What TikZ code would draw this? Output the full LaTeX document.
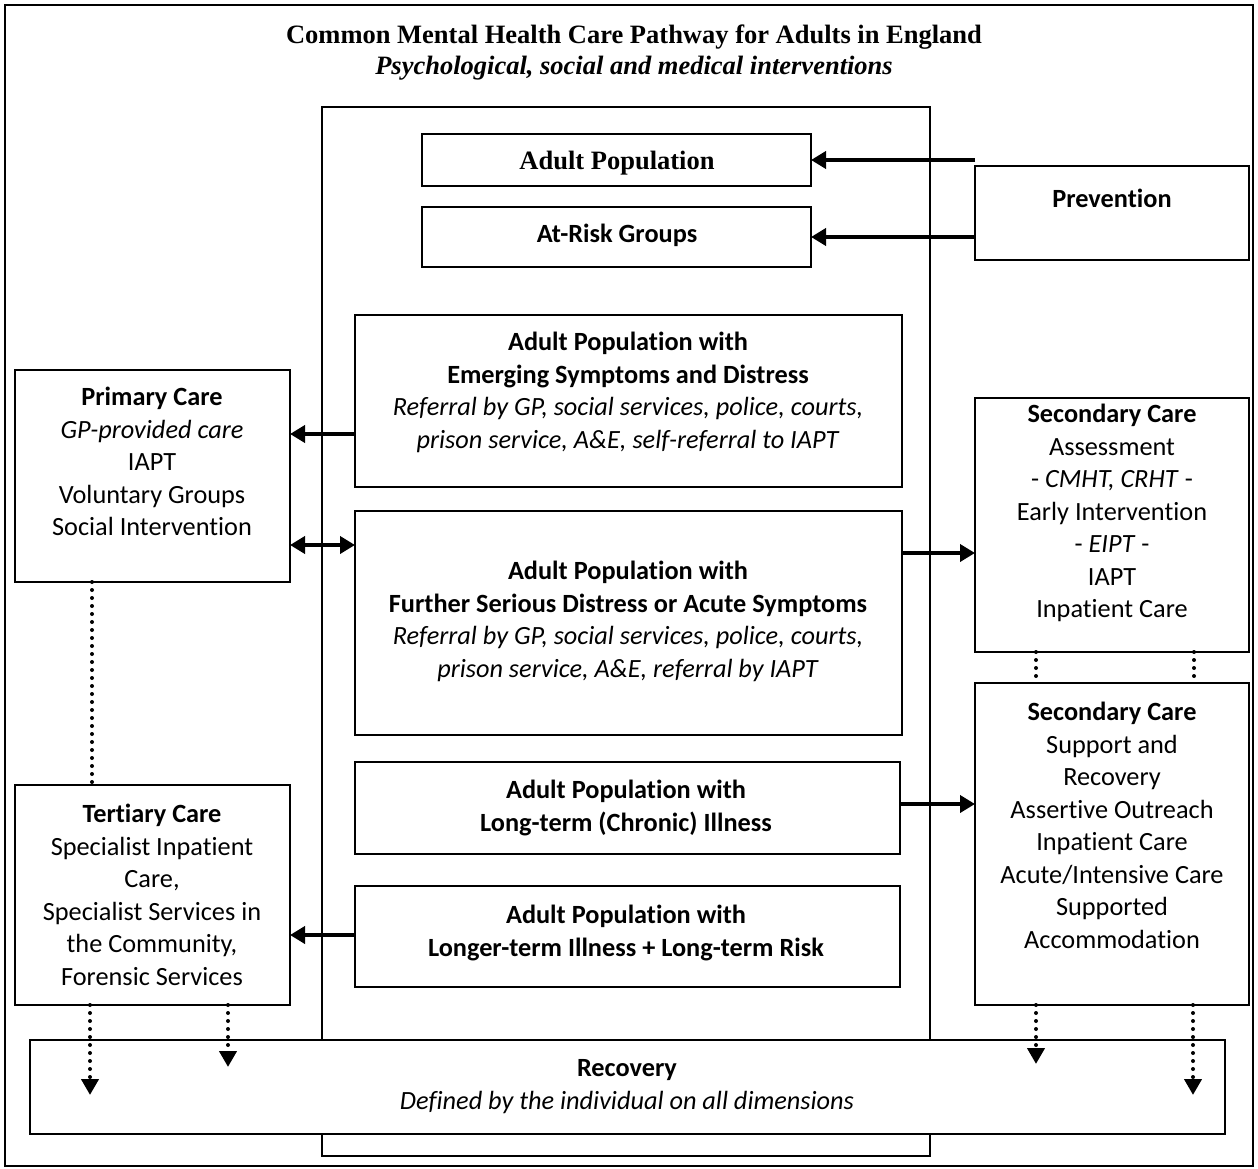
\documentclass[tikz,border=0pt]{standalone}
\usepackage{fontspec}
\setmainfont{Carlito}[Ligatures=NoCommon]
\newfontfamily\tnr{Liberation Serif}
\usetikzlibrary{arrows.meta}
\newcommand\bx[5]{\node[box, minimum width={(#4-#2)*1pt}, minimum height={(#5-#3)*1pt}] (#1) at ({(#2+#4)/2},{(#3+#5)/2}) {};}
\begin{document}
\begin{tikzpicture}[x=1pt,y=-1pt,
  box/.style={draw, line width=1.9pt, fill=white, inner sep=0pt, outer sep=0pt, rectangle},
  txt/.style={anchor=north, inner sep=0pt, align=center, font=\fontsize{26.3}{32.5}\selectfont},
  ttl/.style={anchor=north, inner sep=0pt, align=center, font=\tnr\fontsize{26.5}{30.5}\selectfont},
  arr/.style={line width=4.5pt, -{Triangle[length=15pt,width=17pt]}},
  darr/.style={line width=4.5pt, {Triangle[length=15pt,width=17pt]}-{Triangle[length=15pt,width=17pt]}},
  dots/.style={line width=4pt, line cap=round, dash pattern=on 0pt off 8pt},
  dotarr/.style={dots, -{Triangle[length=16pt,width=17pt]}}]
\useasboundingbox (0,0) rectangle (1258,1169);
% outer frame
\bx{frame}{5}{5}{1253}{1166}
\node[ttl] (title) at (634,22) {\strut\textbf{Common Mental Health Care Pathway for Adults in England}\\\textbf{\textit{Psychological, social and medical interventions}}};
% central column
\bx{col}{322}{107}{930}{1156}
% boxes
\bx{ap}{422}{134}{811}{186}
\bx{ar}{422}{207}{811}{267}
\bx{prev}{975}{166}{1249}{260}
\bx{emg}{355}{315}{902}{487}
\bx{pc}{15}{370}{290}{582}
\bx{fur}{355}{511}{902}{735}
\bx{sc1}{975}{398}{1249}{652}
\bx{lt}{355}{762}{900}{854}
\bx{sc2}{975}{683}{1249}{1005}
\bx{ltr}{355}{886}{900}{987}
\bx{tc}{15}{785}{290}{1005}
\bx{rec}{30}{1040}{1225}{1134}
% texts
\node[ttl] (tap) at (617,148) {\strut\textbf{Adult Population}};
\node[txt] (tar) at (617,220) {\strut\textbf{At-Risk Groups}};
\node[txt] (tprev) at (1112,185) {\strut\textbf{Prevention}};
\node[txt] (temg) at (628,328) {\strut\textbf{Adult Population with}\\\textbf{Emerging Symptoms and Distress}\\\textit{Referral by GP, social services, police, courts,}\\\textit{prison service, A\&E, self-referral to IAPT}};
\node[txt] (tpc) at (152,383) {\strut\textbf{Primary Care}\\\textit{GP-provided care}\\IAPT\\Voluntary Groups\\Social Intervention};
\node[txt] (tfur) at (628,557) {\strut\textbf{Adult Population with}\\\textbf{Further Serious Distress or Acute Symptoms}\\\textit{Referral by GP, social services, police, courts,}\\\textit{prison service, A\&E, referral by IAPT}};
\node[txt] (tsc1) at (1112,400) {\strut\textbf{Secondary Care}\\Assessment\\- \textit{CMHT, CRHT} -\\Early Intervention\\- \textit{EIPT} -\\IAPT\\Inpatient Care};
\node[txt] (tsc2) at (1112,698) {\strut\textbf{Secondary Care}\\Support and\\Recovery\\Assertive Outreach\\Inpatient Care\\Acute/Intensive Care\\Supported\\Accommodation};
\node[txt] (tlt) at (626,776) {\strut\textbf{Adult Population with}\\\textbf{Long-term (Chronic) Illness}};
\node[txt] (tltr) at (626,901) {\strut\textbf{Adult Population with}\\\textbf{Longer-term Illness + Long-term Risk}};
\node[txt] (ttc) at (152,800) {\strut\textbf{Tertiary Care}\\Specialist Inpatient\\Care,\\Specialist Services in\\the Community,\\Forensic Services};
\node[txt] (trec) at (627,1054) {\strut\textbf{Recovery}\\\textit{Defined by the individual on all dimensions}};
% solid arrows
\draw[arr] (prev.west |- 0,160) -- (ap.east |- 0,160);
\draw[arr] (prev.west |- 0,237) -- (ar.east |- 0,237);
\draw[arr] (emg.west |- 0,434) -- (pc.east |- 0,434);
\draw[darr] (pc.east |- 0,545) -- (fur.west |- 0,545);
\draw[arr] (fur.east |- 0,553) -- (sc1.west |- 0,553);
\draw[arr] (lt.east |- 0,804) -- (sc2.west |- 0,804);
\draw[arr] (ltr.west |- 0,935) -- (tc.east |- 0,935);
% dotted links
\draw[dots] (pc.south -| 92,0) -- (tc.north -| 92,0);
\draw[dots] (sc1.south -| 1036,0) -- (sc2.north -| 1036,0);
\draw[dots] (sc1.south -| 1194,0) -- (sc2.north -| 1194,0);
% dotted arrows into recovery
\coordinate (r1) at (90,1095);
\coordinate (r2) at (228,1067);
\coordinate (r3) at (1036,1064);
\coordinate (r4) at (1193,1095);
\draw[dotarr] (tc.south -| r1) -- (r1);
\draw[dotarr] (tc.south -| r2) -- (r2);
\draw[dotarr] (sc2.south -| r3) -- (r3);
\draw[dotarr] (sc2.south -| r4) -- (r4);
\end{tikzpicture}
\end{document}
